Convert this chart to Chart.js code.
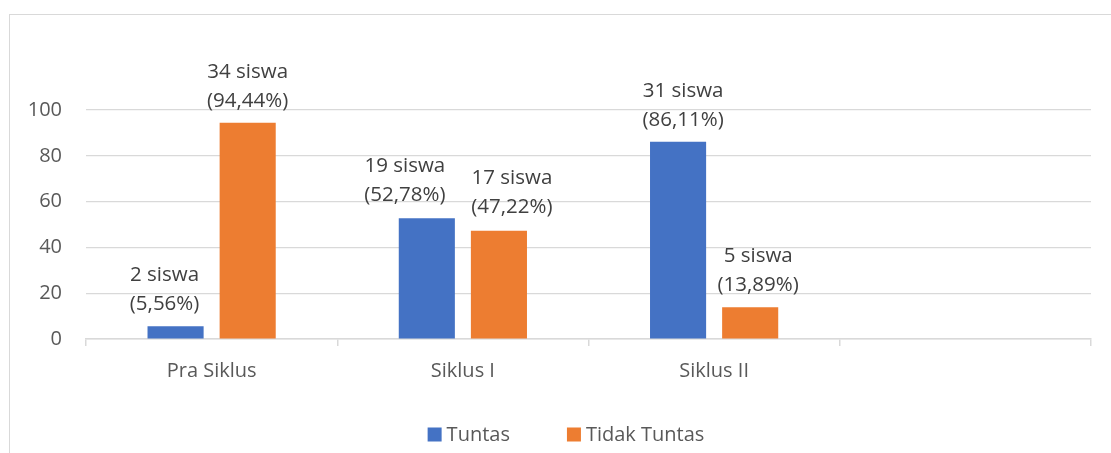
<!DOCTYPE html>
<html>
<head>
<meta charset="utf-8">
<script src="https://cdn.jsdelivr.net/npm/chart.js@4"></script>
<style>
  body { margin: 0; background: #fff; }
  #wrap { position: relative; width: 1111px; height: 453px; }
  #frame {
    position: absolute; left: 9px; top: 14px; right: 0; bottom: 0;
    border-left: 1.5px solid #d9d9d9; border-top: 1.5px solid #d9d9d9;
  }
  canvas { position: absolute; left: 0; top: 0; }
</style>
</head>
<body>
<div id="wrap">
  <div id="frame"></div>
  <canvas id="chart" width="1111" height="453"></canvas>
</div>
<script>
// Data
const categories = ["Pra Siklus", "Siklus I", "Siklus II", ""];
const tuntasPct = [5.56, 52.78, 86.11, null];
const tidakPct = [94.44, 47.22, 13.89, null];
const tuntasSiswa = [2, 19, 31, null];
const tidakSiswa = [34, 17, 5, null];
const yTicks = [0, 20, 40, 60, 80, 100];

const FONT = "'Open Sans', sans-serif";
const fmtPct = (v) => v.toFixed(2).replace(".", ",") + "%";

// Two-line labels above each bar (labels were nudged by hand in the original)
const labelNudge = [
  [[-11, 0], [-22, -1], [5, 0]],
  [[0, 0], [13, -2], [8, 0]],
];
const barLabels = {
  id: "barLabels",
  afterDatasetsDraw(chart) {
    const ctx = chart.ctx;
    const counts = [tuntasSiswa, tidakSiswa];
    ctx.save();
    ctx.font = "20.5px " + FONT;
    ctx.fillStyle = "#404040";
    ctx.textAlign = "center";
    ctx.textBaseline = "middle";
    chart.data.datasets.forEach((ds, di) => {
      chart.getDatasetMeta(di).data.forEach((bar, i) => {
        if (ds.data[i] == null) return;
        const [dx, dy] = labelNudge[di][i];
        ctx.fillText(counts[di][i] + " siswa", bar.x + dx, bar.y - 51 + dy);
        ctx.fillText("(" + fmtPct(ds.data[i]) + ")", bar.x + dx, bar.y - 22 + dy);
      });
    });
    ctx.restore();
  },
};

// Legend drawn at the bottom, Excel style
const bottomLegend = {
  id: "bottomLegend",
  afterDraw(chart) {
    const ctx = chart.ctx;
    const box = 14, gap = 5, itemGap = 57, cy = 434.5, center = 566;
    ctx.save();
    ctx.font = "20px " + FONT;
    ctx.textBaseline = "middle";
    ctx.textAlign = "left";
    const items = chart.data.datasets.map((ds) => ({
      text: ds.label, color: ds.backgroundColor, w: ctx.measureText(ds.label).width,
    }));
    const total = items.reduce((s, it) => s + box + gap + it.w, 0) + itemGap * (items.length - 1);
    let x = center - total / 2;
    items.forEach((it) => {
      ctx.fillStyle = it.color;
      ctx.fillRect(x, cy - box / 2, box, box);
      ctx.fillStyle = "#595959";
      ctx.fillText(it.text, x + box + gap, cy + 1);
      x += box + gap + it.w + itemGap;
    });
    ctx.restore();
  },
};

new Chart(document.getElementById("chart"), {
  type: "bar",
  data: {
    labels: categories,
    datasets: [
      { label: "Tuntas", data: tuntasPct, backgroundColor: "#4472C4" },
      { label: "Tidak Tuntas", data: tidakPct, backgroundColor: "#ED7D31" },
    ],
  },
  options: {
    responsive: false,
    animation: false,
    categoryPercentage: 0.574,
    barPercentage: 0.778,
    layout: { padding: { top: 110, right: 20, bottom: 40, left: 0 } },
    plugins: {
      legend: { display: false },
      tooltip: { enabled: false },
    },
    scales: {
      x: {
        afterFit: (scale) => { scale.height = 74; },
        grid: { drawOnChartArea: false, drawTicks: true, tickLength: 7, color: "#d9d9d9", lineWidth: 1.5 },
        border: { color: "#d9d9d9", width: 1.5 },
        ticks: { color: "#595959", font: { family: FONT, size: 20 }, padding: 13 },
      },
      y: {
        min: 0,
        max: 100,
        afterFit: (scale) => { scale.width = 86; },
        afterBuildTicks: (scale) => { scale.ticks = yTicks.map((v) => ({ value: v })); },
        grid: { color: "#d9d9d9", lineWidth: 1.25, drawTicks: false },
        border: { display: false },
        ticks: { color: "#595959", font: { family: FONT, size: 20 }, padding: 24 },
      },
    },
  },
  plugins: [barLabels, bottomLegend],
});
</script>
</body>
</html>
